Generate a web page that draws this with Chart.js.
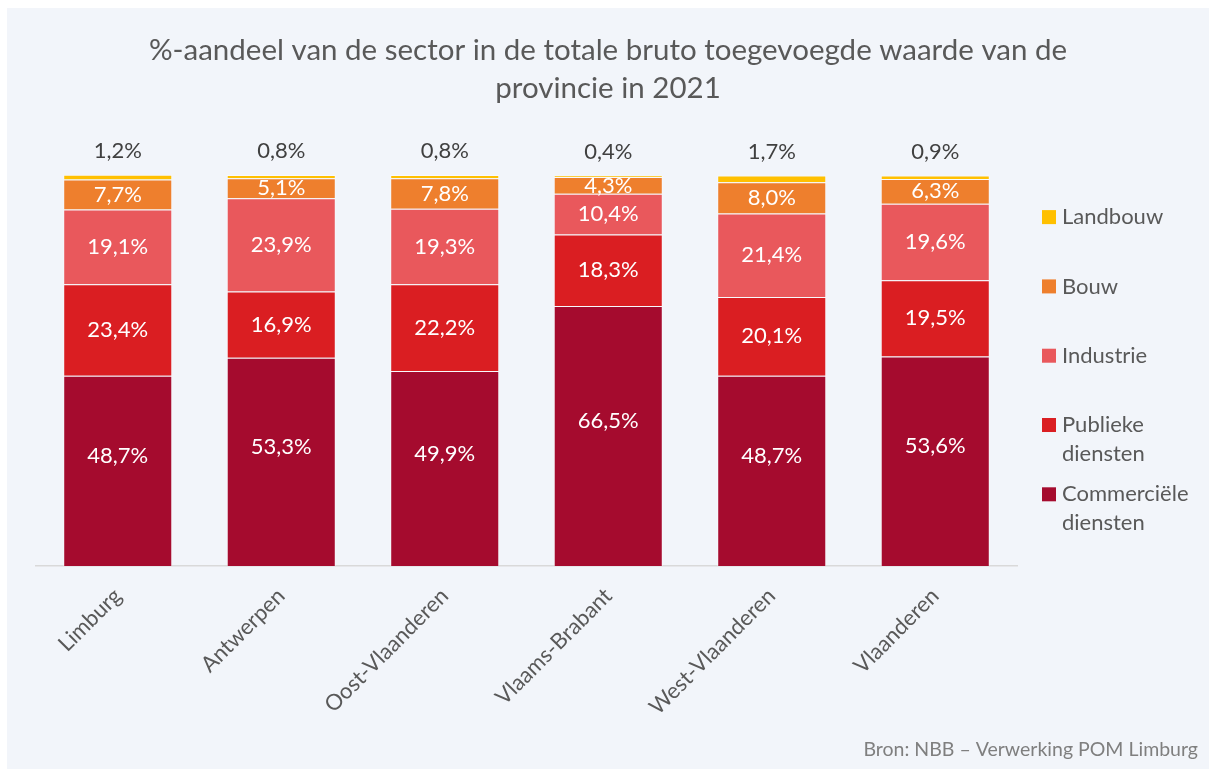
<!DOCTYPE html>
<html lang="nl">
<head>
<meta charset="utf-8">
<title>Aandeel sectoren bruto toegevoegde waarde 2021</title>
<script src="https://cdn.jsdelivr.net/npm/chart.js@4/dist/chart.umd.min.js"></script>
<style>
  body { margin: 0; background: #ffffff; }
  #frame { position: absolute; left: 7px; top: 8px; width: 1202px; height: 761px; background: #F2F5FA; }
</style>
</head>
<body>
<div id="frame"><canvas id="sectorChart" width="1202" height="761"></canvas></div>
<script>
// categories and series (percent of total gross value added)
const provinces = ['Limburg', 'Antwerpen', 'Oost-Vlaanderen', 'Vlaams-Brabant', 'West-Vlaanderen', 'Vlaanderen'];
const commercieleDiensten = [48.7, 53.3, 49.9, 66.5, 48.7, 53.6];
const publiekeDiensten = [23.4, 16.9, 22.2, 18.3, 20.1, 19.5];
const industrie = [19.1, 23.9, 19.3, 10.4, 21.4, 19.6];
const bouw = [7.7, 5.1, 7.8, 4.3, 8.0, 6.3];
const landbouw = [1.2, 0.8, 0.8, 0.4, 1.7, 0.9];

const FONT = 'Lato, "Open Sans", sans-serif';

function pct(v) {
  return v.toFixed(1).replace('.', ',') + '%';
}

// labels inside the segments, landbouw above the bar
const valueLabels = {
  id: 'valueLabels',
  afterDatasetsDraw(chart) {
    const ctx = chart.ctx;
    ctx.save();
    ctx.font = '22px ' + FONT;
    ctx.textAlign = 'center';
    ctx.textBaseline = 'middle';
    chart.data.datasets.forEach((ds, i) => {
      chart.getDatasetMeta(i).data.forEach((bar, j) => {
        const txt = pct(ds.data[j]);
        if (i === 4) {
          ctx.fillStyle = '#404040';
          ctx.fillText(txt, bar.x, bar.y - 24);
        } else {
          // bottom segment label sits a bit higher, like the original
          const lift = i === 0 ? 15 : 0;
          ctx.fillStyle = '#ffffff';
          ctx.fillText(txt, bar.x, (bar.y + bar.base) / 2 - lift);
        }
      });
    });
    ctx.restore();
  }
};

// legend on the right (top to bottom = top of stack first) and source line
const sideLegend = {
  id: 'sideLegend',
  afterDraw(chart) {
    const ctx = chart.ctx;
    const area = chart.chartArea;
    const x = area.right + 25;
    ctx.save();
    ctx.font = '22px ' + FONT;
    ctx.textBaseline = 'middle';
    ctx.textAlign = 'left';
    const items = chart.data.datasets.slice().reverse();
    items.forEach((ds, k) => {
      const y = area.top + 42 + k * 69.3;
      ctx.fillStyle = ds.backgroundColor;
      ctx.fillRect(x, y - 7, 14, 14);
      ctx.fillStyle = '#595959';
      const lines = Array.isArray(ds.legendText) ? ds.legendText : [ds.label];
      lines.forEach((line, n) => ctx.fillText(line, x + 20, y + n * 29));
    });

    ctx.font = '19.5px ' + FONT;
    ctx.fillStyle = '#7F7F7F';
    ctx.textAlign = 'right';
    ctx.textBaseline = 'alphabetic';
    ctx.fillText('Bron: NBB \u2013 Verwerking POM Limburg', chart.width - 11, chart.height - 13);
    ctx.restore();
  }
};

const sectorData = {
  labels: provinces,
  datasets: [
    { label: 'Commerciële diensten', legendText: ['Commerciële', 'diensten'], data: commercieleDiensten, backgroundColor: '#A50B2E' },
    { label: 'Publieke diensten', legendText: ['Publieke', 'diensten'], data: publiekeDiensten, backgroundColor: '#DA1E22' },
    { label: 'Industrie', data: industrie, backgroundColor: '#E9585C' },
    { label: 'Bouw', data: bouw, backgroundColor: '#EE7F2D' },
    { label: 'Landbouw', data: landbouw, backgroundColor: '#FFC000' },
  ],
};
sectorData.datasets.forEach(ds => {
  ds.borderColor = 'rgba(255, 255, 255, 0.45)';
  ds.borderWidth = 1;
  ds.barPercentage = 0.667;
  ds.categoryPercentage = 1;
});

// empty side axes only reserve room (left margin, legend column)
const spacer = (w, pos) => ({
  position: pos,
  display: true,
  grid: { display: false },
  border: { display: false },
  ticks: { display: false },
  afterFit(scale) { scale.width = w; },
});

const sectorConfig = {
  type: 'bar',
  data: sectorData,
  options: {
    responsive: false,
    animation: false,
    layout: { padding: 0 },
    plugins: {
      legend: { display: false },
      tooltip: { enabled: false },
      title: {
        display: true,
        text: ['%-aandeel van de sector in de totale bruto toegevoegde waarde van de', 'provincie in 2021'],
        color: '#595959',
        font: { family: FONT, size: 29.5, weight: 'normal', lineHeight: 1.29 },
        padding: { top: 23, bottom: 68 },
      },
    },
    scales: {
      x: {
        stacked: true,
        grid: { display: false },
        border: { display: true, color: '#D9D9D9', width: 1.5 },
        ticks: {
          color: '#595959',
          font: { family: FONT, size: 22 },
          minRotation: 45,
          maxRotation: 45,
          padding: 9,
        },
        afterFit(scale) { scale.height = 203; },
      },
      y: Object.assign(spacer(29, 'left'), { stacked: true, min: 0, max: 100 }),
      legendRoom: spacer(192, 'right'),
    },
  },
  plugins: [valueLabels, sideLegend],
};

const sectorCtx = document.getElementById('sectorChart').getContext('2d');
new Chart(sectorCtx, sectorConfig);
</script>
</body>
</html>
